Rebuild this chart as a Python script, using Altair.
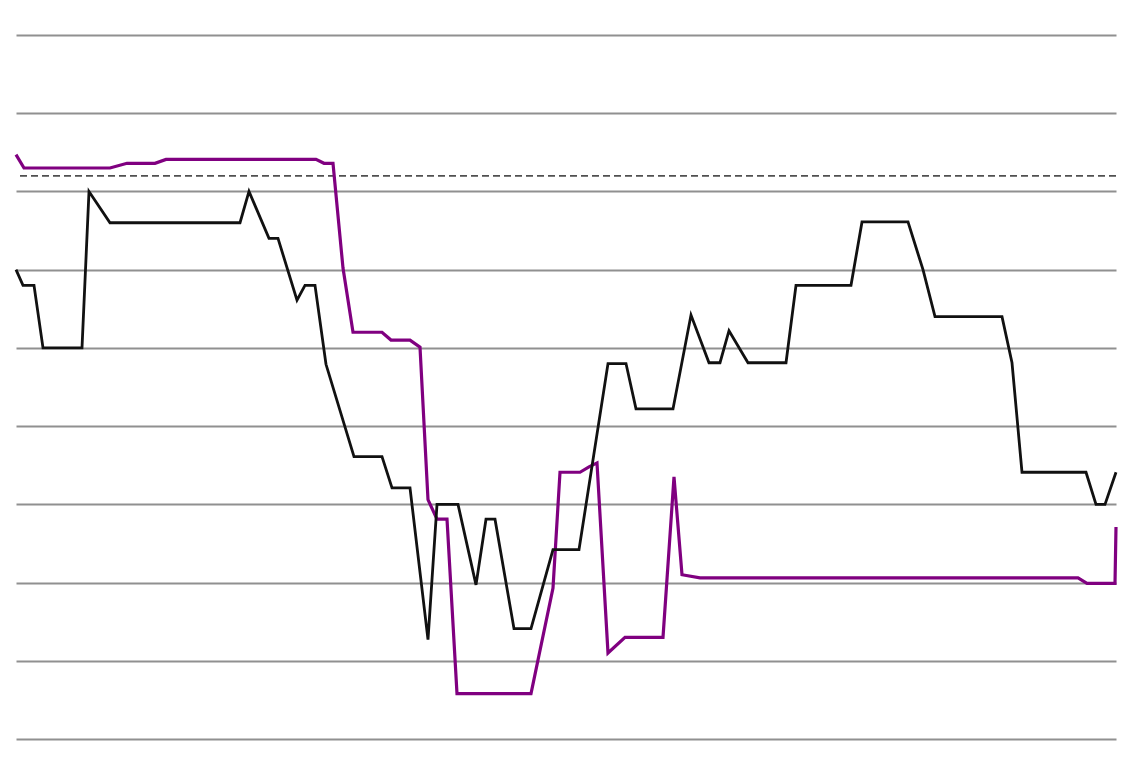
import altair as alt
import pandas as pd

# Black series
black_x = [0, 0.7, 1.8, 2.7, 6.6, 7.3, 9.4, 22.4, 23.3, 25.3, 26.2, 28.1, 28.9, 29.9,
           31.0, 33.8, 36.6, 37.6, 39.4, 41.2, 42.1, 44.2, 46.0, 47.0, 47.9, 49.8, 51.5,
           53.7, 56.3, 59.2, 61.0, 62.0, 65.7, 67.5, 69.3, 70.4, 71.3, 73.2, 77.0, 78.0,
           83.5, 84.6, 89.2, 90.7, 91.9, 98.6, 99.6, 100.6, 107.0, 108.0, 108.9, 110.0]
black_y = [6.0, 5.8, 5.8, 5.0, 5.0, 7.0, 6.6, 6.6, 7.0, 6.4, 6.4, 5.61, 5.8, 5.8,
           4.79, 3.61, 3.61, 3.21, 3.21, 1.27, 3.0, 3.0, 1.97, 2.81, 2.81, 1.41, 1.41,
           2.42, 2.42, 4.8, 4.8, 4.22, 4.22, 5.42, 4.81, 4.81, 5.22, 4.81, 4.81, 5.8,
           5.8, 6.61, 6.61, 6.0, 5.4, 5.4, 4.81, 3.41, 3.41, 3.0, 3.0, 3.41]

# Purple series
purple_x = [0, 0.8, 9.4, 11.1, 13.9, 15.0, 30.0, 30.8, 31.7, 32.7, 33.7, 36.6, 37.5,
            39.4, 40.4, 41.2, 42.1, 43.1, 44.1, 51.5, 53.7, 54.4, 56.4, 57.3, 58.1, 59.2,
            60.9, 64.7, 65.8, 66.6, 68.4, 106.2, 107.1, 109.9, 110.0]
purple_y = [7.47, 7.3, 7.3, 7.36, 7.36, 7.41, 7.41, 7.36, 7.36, 6.02, 5.2, 5.2, 5.1,
            5.1, 5.01, 3.06, 2.81, 2.81, 0.58, 0.58, 1.93, 3.41, 3.41, 3.48, 3.53, 1.1,
            1.3, 1.3, 3.35, 2.1, 2.06, 2.06, 1.99, 1.99, 2.71]

reference_level = [7.2]
grid_values = [0, 1, 2, 3, 4, 5, 6, 7, 8, 9]

df_black = pd.DataFrame({"x": black_x, "y": black_y})
df_purple = pd.DataFrame({"x": purple_x, "y": purple_y})
df_ref = pd.DataFrame({"y": reference_level})

xs = alt.Scale(domain=[0, 110], nice=False, zero=False)
ys = alt.Scale(domain=[0, 9], nice=False, zero=False)

yaxis = alt.Axis(values=grid_values, grid=True, gridColor="#909090", gridWidth=2,
                 labels=False, ticks=False, domain=False, title="")

base_grid = alt.Chart(df_ref).mark_rule(opacity=0).encode(
    y=alt.Y("y:Q", scale=ys, axis=yaxis)
)

ref = alt.Chart(df_ref).mark_rule(color="#505050", strokeWidth=1.8, strokeDash=[7, 4]).encode(
    y=alt.Y("y:Q", scale=ys)
)

black = alt.Chart(df_black).mark_line(color="#111111", strokeWidth=2.8, strokeJoin="miter").encode(
    x=alt.X("x:Q", scale=xs, axis=None),
    y=alt.Y("y:Q", scale=ys),
    order="x:Q",
)

purple = alt.Chart(df_purple).mark_line(color="#800080", strokeWidth=3.2, strokeJoin="miter").encode(
    x=alt.X("x:Q", scale=xs, axis=None),
    y=alt.Y("y:Q", scale=ys),
    order="x:Q",
)

chart = alt.layer(base_grid, ref, purple, black).properties(
    width=1100,
    height=704,
    background="white",
    autosize=alt.AutoSizeParams(type="none"),
    padding={"left": 8, "top": 27, "right": 22, "bottom": 23},
).configure_view(stroke="transparent", strokeWidth=0)

chart.save("out.html", embed_options={"renderer": "svg", "actions": False})
